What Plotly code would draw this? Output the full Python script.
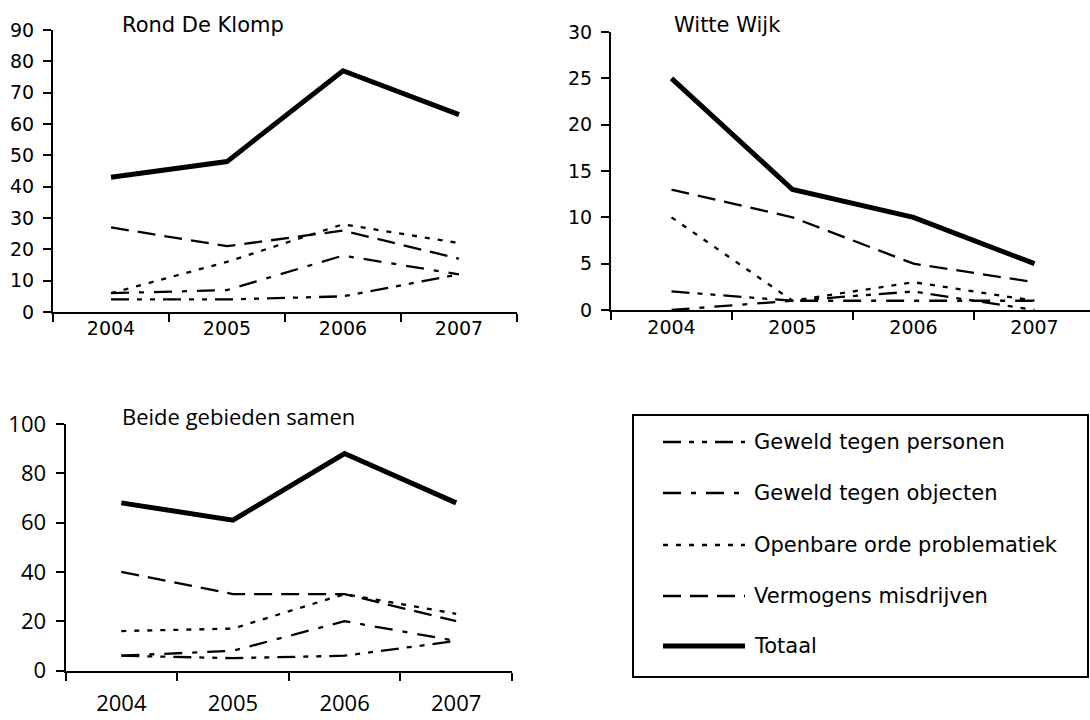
import plotly.graph_objects as go

# ---------------- data ----------------
years = ["2004", "2005", "2006", "2007"]
series_names = [
    "Geweld tegen personen",
    "Geweld tegen objecten",
    "Openbare orde problematiek",
    "Vermogens misdrijven",
    "Totaal",
]

klomp_personen = [4, 4, 5, 12]
klomp_objecten = [6, 7, 18, 12]
klomp_openbare = [6, 16, 28, 22]
klomp_vermogens = [27, 21, 26, 17]
klomp_totaal = [43, 48, 77, 63]

witte_personen = [2, 1, 2, 0]
witte_objecten = [0, 1, 1, 1]
witte_openbare = [10, 1, 3, 1]
witte_vermogens = [13, 10, 5, 3]
witte_totaal = [25, 13, 10, 5]

beide_personen = [6, 5, 6, 12]
beide_objecten = [6, 8, 20, 12]
beide_openbare = [16, 17, 31, 23]
beide_vermogens = [40, 31, 31, 20]
beide_totaal = [68, 61, 88, 68]

panel_titles = ["Rond De Klomp", "Witte Wijk", "Beide gebieden samen"]

# ---------------- styles ----------------
DASH = {
    "Geweld tegen personen": "18px,8px,5px,8px,5px,8px",
    "Geweld tegen objecten": "18px,10px,5px,10px",
    "Openbare orde problematiek": "5px,8px",
    "Vermogens misdrijven": "18px,9px",
    "Totaal": "solid",
}
WIDTH = {n: 2.3 for n in series_names}
WIDTH["Totaal"] = 5

W, H = 1090, 720


def px_x(p):
    return p / W


def px_y(p):
    return (H - p) / H


fig = go.Figure()

panels = [
    ("x", "y", [klomp_personen, klomp_objecten, klomp_openbare, klomp_vermogens, klomp_totaal]),
    ("x2", "y2", [witte_personen, witte_objecten, witte_openbare, witte_vermogens, witte_totaal]),
    ("x3", "y3", [beide_personen, beide_objecten, beide_openbare, beide_vermogens, beide_totaal]),
]

for xa, ya, data in panels:
    for name, vals in zip(series_names, data):
        fig.add_trace(
            go.Scatter(
                x=years,
                y=vals,
                mode="lines",
                name=name,
                xaxis=xa,
                yaxis=ya,
                line=dict(color="black", width=WIDTH[name], dash=DASH[name]),
                showlegend=False,
                hoverinfo="skip",
            )
        )

tick_font_a = dict(family="DejaVu Sans", size=19, color="black")
tick_font_b = dict(family="Open Sans", size=22, color="black")

common_x = dict(
    type="category",
    tickson="boundaries",
    ticks="outside",
    ticklen=8,
    tickwidth=2,
    tickcolor="black",
    showline=True,
    linewidth=2,
    linecolor="black",
    showgrid=False,
    zeroline=False,
    fixedrange=True,
)
common_y = dict(
    ticks="outside",
    ticklen=8,
    tickwidth=2,
    tickcolor="black",
    showline=True,
    linewidth=2,
    linecolor="black",
    showgrid=False,
    zeroline=False,
    fixedrange=True,
)

fig.update_layout(
    width=W,
    height=H,
    margin=dict(l=0, r=0, t=0, b=0, autoexpand=False),
    paper_bgcolor="white",
    plot_bgcolor="white",
    showlegend=False,
    xaxis=dict(common_x, domain=[px_x(53), px_x(517)], range=[-0.5, 3.5], anchor="y",
               tickfont=tick_font_a, ticklabelstandoff=-2),
    yaxis=dict(common_y, domain=[px_y(312), px_y(30)], range=[0, 90], dtick=10, anchor="x",
               tickfont=tick_font_a, ticklabelstandoff=5),
    xaxis2=dict(common_x, domain=[px_x(611), 1.0], range=[-0.5, 3.5 - (611 + 4 * 121 - W) / 121],
                anchor="y2", tickfont=tick_font_a, ticklabelstandoff=-1),
    yaxis2=dict(common_y, domain=[px_y(310), px_y(32)], range=[0, 30], dtick=5, anchor="x2",
                tickfont=tick_font_a, ticklabelstandoff=5),
    xaxis3=dict(common_x, domain=[px_x(65.5), px_x(512)], range=[-0.5, 3.5], anchor="y3",
                tickfont=tick_font_b, ticklabelstandoff=12),
    yaxis3=dict(common_y, domain=[px_y(670.5), px_y(424)], range=[0, 100], dtick=20, anchor="x3",
                tickfont=tick_font_b, ticklabelstandoff=5),
)

# panel titles
title_specs = [
    (panel_titles[0], 120, 25, dict(family="DejaVu Sans", size=21, color="black")),
    (panel_titles[1], 672, 25, dict(family="DejaVu Sans", size=21, color="black")),
    (panel_titles[2], 120, 416, dict(family="Open Sans", size=22, color="black")),
]
for txt, xp, yp, f in title_specs:
    fig.add_annotation(
        text=txt, x=px_x(xp), y=px_y(yp), xref="paper", yref="paper",
        xanchor="left", yanchor="middle", showarrow=False, font=f,
    )

# manual legend box
fig.add_shape(
    type="rect", xref="paper", yref="paper",
    x0=px_x(633), x1=px_x(1088), y0=px_y(677), y1=px_y(415),
    line=dict(color="black", width=2), fillcolor="rgba(0,0,0,0)",
)
legend_y = [442, 493, 545, 596, 646]
for name, ly in zip(series_names, legend_y):
    fig.add_shape(
        type="line", xref="paper", yref="paper",
        x0=px_x(663), x1=px_x(745), y0=px_y(ly), y1=px_y(ly),
        line=dict(color="black", width=WIDTH[name], dash=DASH[name]),
    )
    fig.add_annotation(
        text=name, x=px_x(752), y=px_y(ly), xref="paper", yref="paper",
        xanchor="left", yanchor="middle", showarrow=False,
        font=dict(family="DejaVu Sans", size=21, color="black"),
    )

fig.write_html(
    "out.html",
    config={"displayModeBar": False, "staticPlot": True},
    post_script="document.body.style.margin='0';document.body.style.overflow='hidden';",
)
